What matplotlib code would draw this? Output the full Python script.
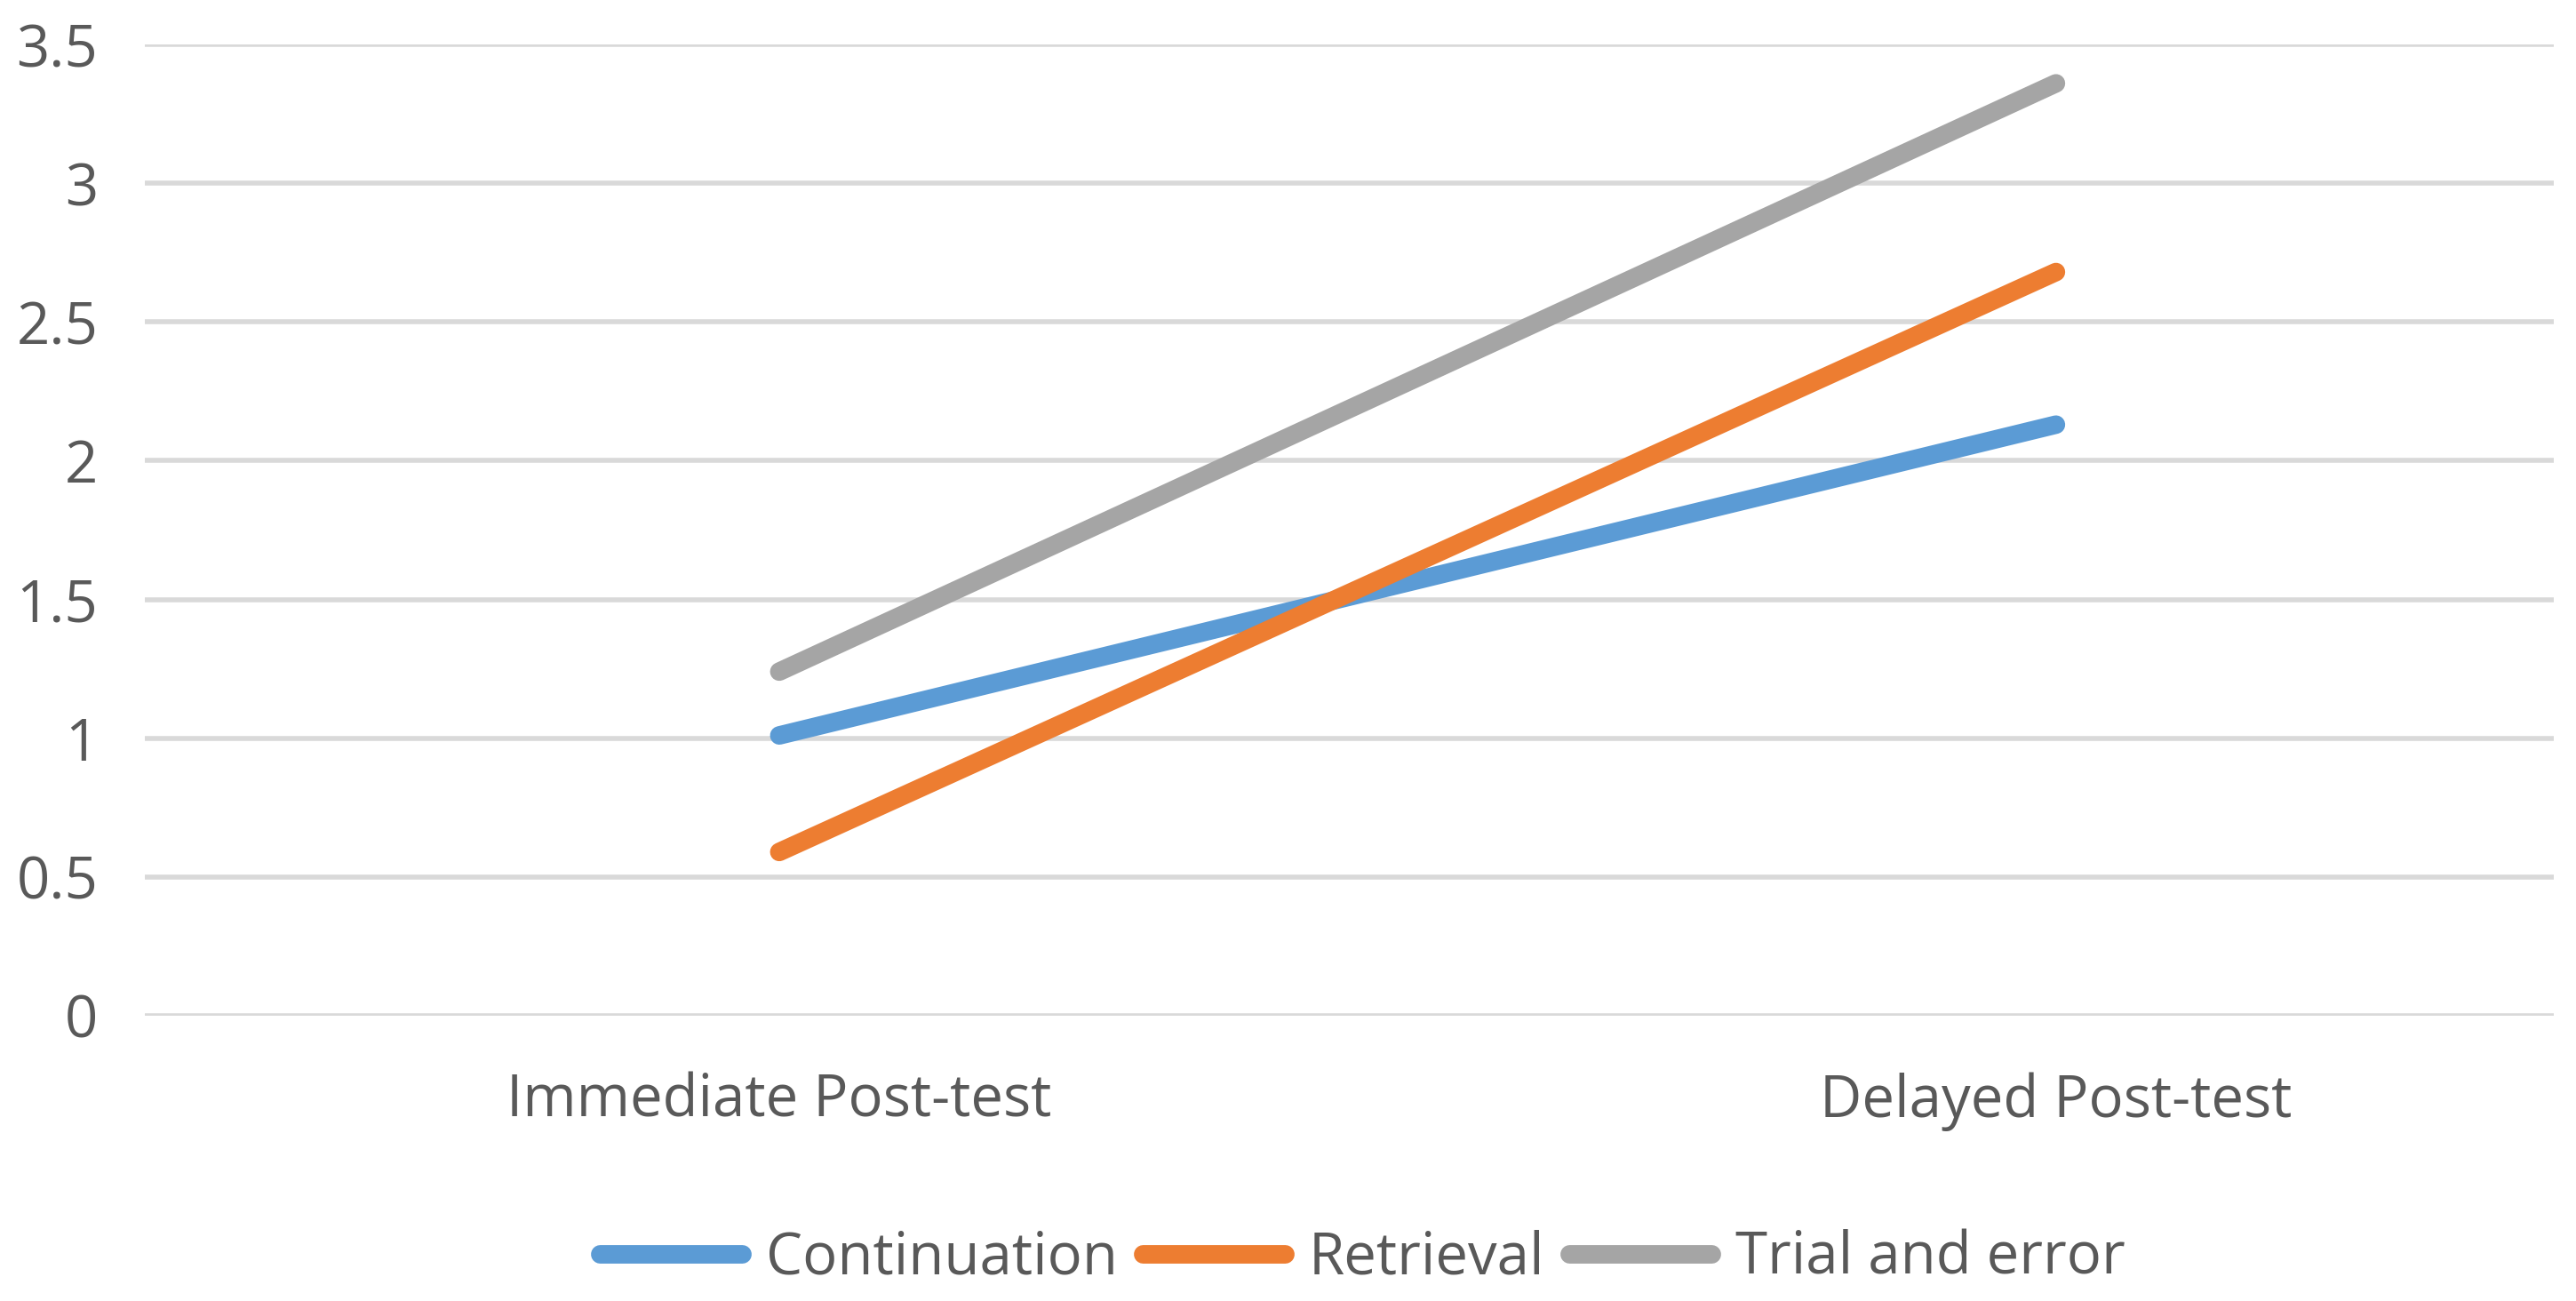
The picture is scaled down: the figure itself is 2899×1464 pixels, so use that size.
import matplotlib.pyplot as plt

plt.rcParams['font.family'] = ['Open Sans', 'DejaVu Sans']

categories = ["Immediate Post-test", "Delayed Post-test"]
series_names = ["Continuation", "Retrieval", "Trial and error"]
continuation = [1.01, 2.13]
retrieval = [0.59, 2.68]
trial_and_error = [1.24, 3.36]
y_ticks = [0, 0.5, 1, 1.5, 2, 2.5, 3, 3.5]
y_tick_labels = ["0", "0.5", "1", "1.5", "2", "2.5", "3", "3.5"]

colors = ["#5B9BD5", "#ED7D31", "#A5A5A5"]
text_color = "#595959"

fig = plt.figure(figsize=(28.99, 14.64), dpi=100)
ax = fig.add_axes([0.0562, 0.2193, 0.9352, 0.7465])

x = list(range(len(categories)))

for name, values, color in zip(
    series_names,
    [continuation, retrieval, trial_and_error],
    colors
):
    ax.plot(
        x,
        values,
        color=color,
        linewidth=15,
        solid_capstyle="round",
        label=name,
        zorder=3
    )

ax.set_ylim(0, 3.5)
ax.set_xlim(-0.497, 1.39)

ax.set_yticks(y_ticks)
ax.set_yticklabels(y_tick_labels)
ax.set_xticks(x)
ax.set_xticklabels(categories)

ax.grid(axis="y", color="#D9D9D9", linewidth=4, zorder=0)
ax.set_axisbelow(True)

for spine in ax.spines.values():
    spine.set_visible(False)

ax.tick_params(axis="both", length=0, labelsize=47, labelcolor=text_color)
ax.tick_params(axis="y", pad=38)
ax.tick_params(axis="x", pad=46)

fig.legend(
    loc="center",
    bbox_to_anchor=(0.529, 1 - 1417 / 1464),
    ncol=3,
    frameon=False,
    fontsize=47,
    labelcolor=text_color,
    handlelength=2.45,
    handletextpad=0.42,
    columnspacing=0.42
)

fig.savefig("out.png", dpi=100)
